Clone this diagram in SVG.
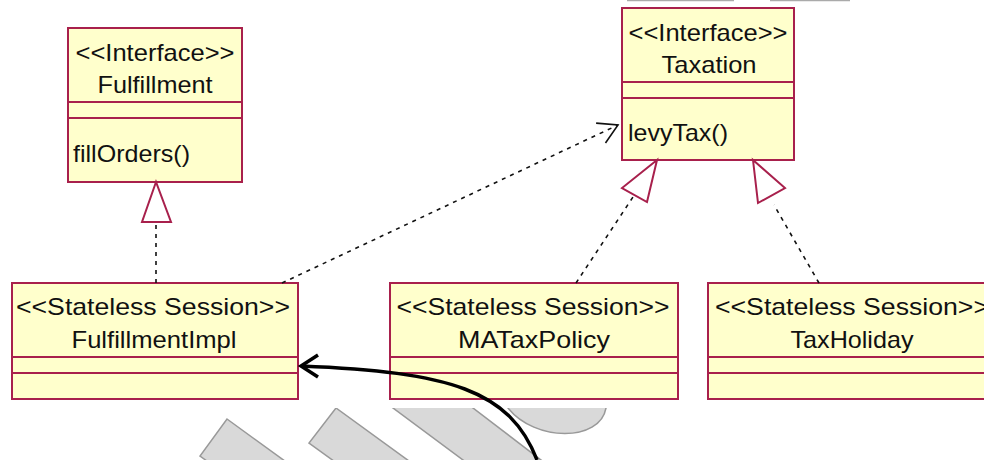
<svg xmlns="http://www.w3.org/2000/svg" width="984" height="460" viewBox="0 0 984 460">
<style>
.box{fill:#FFFFCC;stroke:#A8204C;stroke-width:2}
.div{stroke:#A8204C;stroke-width:2}
.t{font-family:"Liberation Sans",Arial,sans-serif;font-size:24px;fill:#111}
.c{text-anchor:middle}
.dash{fill:none;stroke:#111;stroke-width:1.6;stroke-dasharray:4 5}
.tri{fill:#fff;stroke:#A8204C;stroke-width:2}
.wm{fill:#d9d9d9;stroke:#999;stroke-width:1.5}
</style>
<defs>
<clipPath id="wmclip"><rect x="0" y="408" width="984" height="52"/></clipPath>
<marker id="open" viewBox="-22 -12 24 24" markerWidth="24" markerHeight="24" refX="0" refY="0" orient="auto" markerUnits="userSpaceOnUse">
<path d="M-19,-11 L0,0 L-19,11" fill="none" stroke="#111" stroke-width="1.6"/>
</marker>
</defs>
<rect width="984" height="460" fill="#fff"/>
<g id="top-lines" stroke="#aaa" stroke-width="1.5">
<line x1="627" y1="0.5" x2="734" y2="0.5"/>
<line x1="770" y1="0.5" x2="850" y2="0.5"/>
</g>
<g id="watermark" clip-path="url(#wmclip)">
<polygon class="wm" points="227,419 300,472 273,509 200,456"/>
<polygon class="wm" points="336,408 420,469 393,504 309,443"/>
<polygon class="wm" points="372,392.4 452.6,392.4 554.6,470.4 477,470.4"/>
<path class="wm" d="M500,398 L508,408 C535,442 600,442 606,408 L612,398 Z"/>
</g>
<g id="Fulfillment">
<rect class="box" x="68" y="28" width="174" height="154"/>
<line class="div" x1="68" y1="102" x2="242" y2="102"/>
<line class="div" x1="68" y1="118" x2="242" y2="118"/>
<text class="t c" x="155" y="61" textLength="159" lengthAdjust="spacingAndGlyphs">&lt;&lt;Interface&gt;&gt;</text>
<text class="t c" x="155" y="93" textLength="115" lengthAdjust="spacingAndGlyphs">Fulfillment</text>
<text class="t" x="73" y="162" textLength="117" lengthAdjust="spacingAndGlyphs">fillOrders()</text>
</g>
<g id="Taxation">
<rect class="box" x="622" y="8" width="172" height="152"/>
<line class="div" x1="622" y1="82" x2="794" y2="82"/>
<line class="div" x1="622" y1="98" x2="794" y2="98"/>
<text class="t c" x="708" y="41" textLength="159" lengthAdjust="spacingAndGlyphs">&lt;&lt;Interface&gt;&gt;</text>
<text class="t c" x="709" y="73" textLength="95" lengthAdjust="spacingAndGlyphs">Taxation</text>
<text class="t" x="628" y="141" textLength="100" lengthAdjust="spacingAndGlyphs">levyTax()</text>
</g>
<g id="FulfillmentImpl">
<rect class="box" x="12" y="283" width="286" height="116"/>
<line class="div" x1="12" y1="357" x2="298" y2="357"/>
<line class="div" x1="12" y1="373" x2="298" y2="373"/>
<text class="t c" x="153" y="315" textLength="274" lengthAdjust="spacingAndGlyphs">&lt;&lt;Stateless Session&gt;&gt;</text>
<text class="t c" x="154" y="348" textLength="165" lengthAdjust="spacingAndGlyphs">FulfillmentImpl</text>
</g>
<g id="MATaxPolicy">
<rect class="box" x="390" y="283" width="288" height="116"/>
<line class="div" x1="390" y1="357" x2="678" y2="357"/>
<line class="div" x1="390" y1="373" x2="678" y2="373"/>
<text class="t c" x="533" y="315" textLength="273" lengthAdjust="spacingAndGlyphs">&lt;&lt;Stateless Session&gt;&gt;</text>
<text class="t c" x="534" y="348" textLength="152" lengthAdjust="spacingAndGlyphs">MATaxPolicy</text>
</g>
<g id="TaxHoliday">
<rect class="box" x="708" y="283" width="288" height="116"/>
<line class="div" x1="708" y1="357" x2="996" y2="357"/>
<line class="div" x1="708" y1="373" x2="996" y2="373"/>
<text class="t c" x="852" y="315" textLength="274" lengthAdjust="spacingAndGlyphs">&lt;&lt;Stateless Session&gt;&gt;</text>
<text class="t c" x="852" y="348" textLength="123" lengthAdjust="spacingAndGlyphs">TaxHoliday</text>
</g>
<g id="connectors">
<line class="dash" x1="156" y1="283" x2="156" y2="222"/>
<polygon class="tri" points="156,182 142,222 171,222"/>
<line class="dash" x1="576" y1="283" x2="633" y2="197"/>
<polygon class="tri" points="657,160 622,188 647,202"/>
<line class="dash" x1="819" y1="283" x2="774" y2="205"/>
<polygon class="tri" points="753,160 758,203 785,188"/>
<line class="dash" x1="282" y1="283" x2="618" y2="125" marker-end="url(#open)"/>
<path d="M537,460 C510,390 450,372 301,366" fill="none" stroke="#000" stroke-width="3.5"/>
<polyline points="318,355 301,366 318,377" fill="none" stroke="#000" stroke-width="3.5"/>
</g>
</svg>
